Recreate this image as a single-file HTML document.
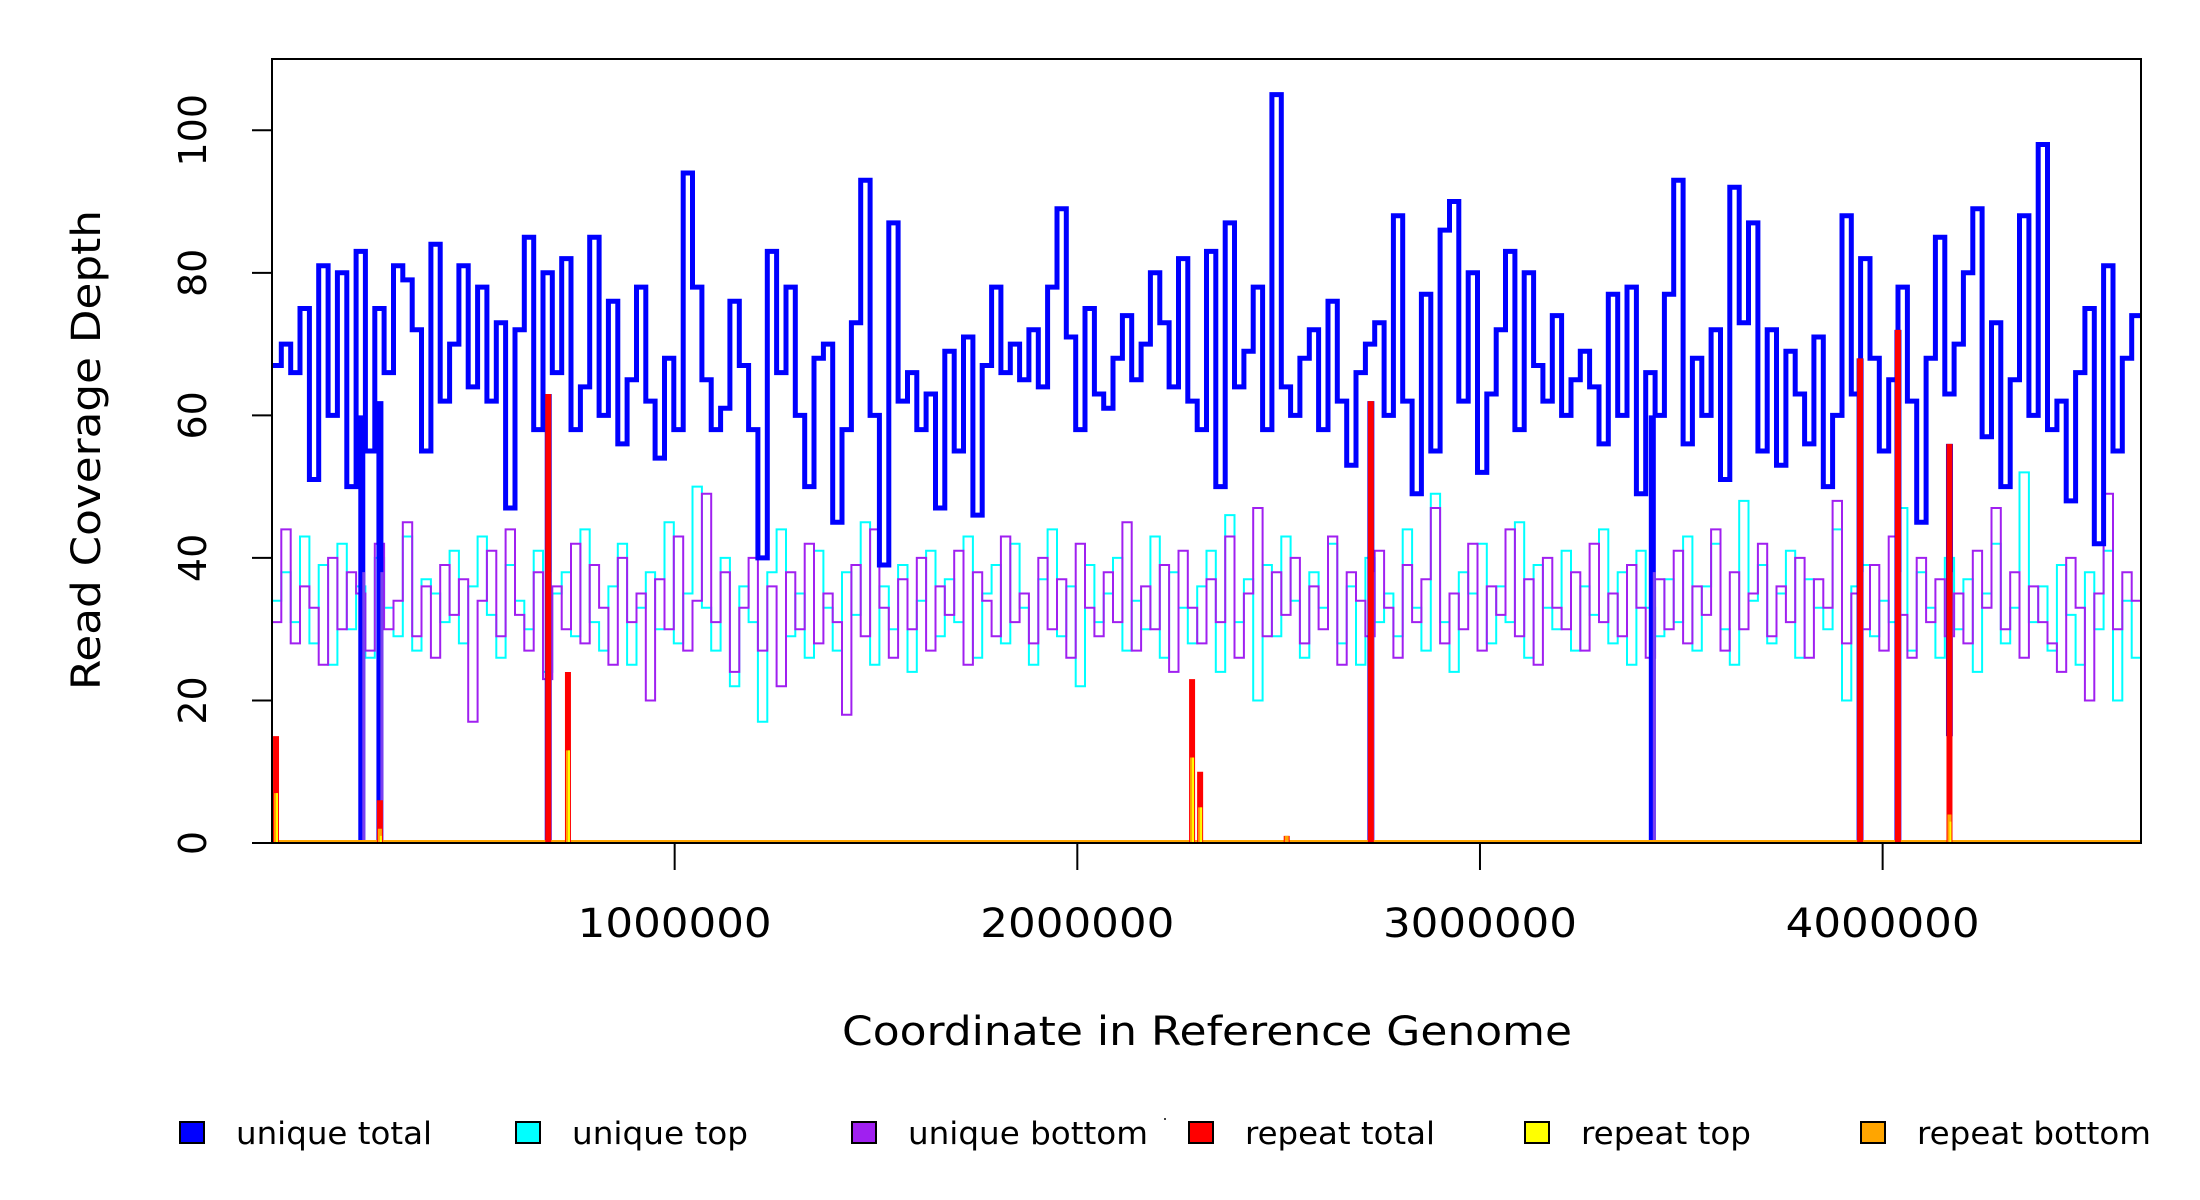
<!DOCTYPE html>
<html><head><meta charset="utf-8"><style>
html,body{margin:0;padding:0;background:#fff;}
svg{display:block;font-family:"DejaVu Sans","Liberation Sans",sans-serif;}
</style></head><body>
<svg id="chart" width="2200" height="1200" viewBox="0 0 2200 1200" xmlns="http://www.w3.org/2000/svg">
<rect x="0" y="0" width="2200" height="1200" fill="#fff"/>
<g id="marks"></g>
<rect x="272" y="59" width="1869" height="784" fill="none" stroke="#000" stroke-width="2"/>
<g id="axes"></g>
<text x="100" y="450" transform="rotate(-90 100 450)" text-anchor="middle" font-size="40" textLength="480" lengthAdjust="spacingAndGlyphs">Read Coverage Depth</text>
<text x="1207" y="1045" text-anchor="middle" font-size="40" textLength="730" lengthAdjust="spacingAndGlyphs">Coordinate in Reference Genome</text>
<g id="legend"></g>
<rect x="1164" y="1118" width="2" height="2" fill="#444"/>
</svg>
<script>
const genomeLength = 4641652;
const yMax = 110;
const uniqueTotal = [67,70,66,75,51,81,60,80,50,83,55,75,66,81,79,72,55,84,62,70,81,64,78,62,73,47,72,85,58,80,66,82,58,64,85,60,76,56,65,78,62,54,68,58,94,78,65,58,61,76,67,58,40,83,66,78,60,50,68,70,45,58,73,93,60,39,87,62,66,58,63,47,69,55,71,46,67,78,66,70,65,72,64,78,89,71,58,75,63,61,68,74,65,70,80,73,64,82,62,58,83,50,87,64,69,78,58,105,64,60,68,72,58,76,62,53,66,70,73,60,88,62,49,77,55,86,90,62,80,52,63,72,83,58,80,67,62,74,60,65,69,64,56,77,60,78,49,66,60,77,93,56,68,60,72,51,92,73,87,55,72,53,69,63,56,71,50,60,88,63,82,68,55,65,78,62,45,68,85,63,70,80,89,57,73,50,65,88,60,98,58,62,48,66,75,42,81,55,68,74];
const uniqueTop = [34,38,31,43,28,39,25,42,30,36,26,40,33,29,43,27,37,35,31,41,28,36,43,32,26,39,34,30,41,24,35,38,29,44,31,27,36,42,25,33,38,30,45,28,35,50,33,27,40,22,36,31,17,38,44,29,35,26,41,33,27,38,32,45,25,36,30,39,24,34,41,29,37,31,43,26,35,39,28,42,33,25,37,44,29,36,22,39,31,35,40,27,34,30,43,26,38,33,28,36,41,24,46,31,37,20,39,29,43,34,26,38,33,42,28,36,25,40,31,35,29,44,33,27,49,31,24,38,35,42,28,36,31,45,26,39,33,30,41,27,36,32,44,28,38,25,41,33,29,37,31,43,27,36,42,30,25,48,34,39,28,35,41,26,37,33,30,44,20,36,39,29,34,31,47,27,38,33,26,40,30,37,24,35,42,28,33,52,31,36,27,39,32,25,38,30,41,20,34,26];
const uniqueBottom = [31,44,28,36,33,25,40,30,38,35,27,42,30,34,45,29,36,26,39,32,37,17,34,41,29,44,32,27,38,23,36,30,42,28,39,33,25,40,31,35,20,37,30,43,27,34,49,31,38,24,33,40,27,36,22,38,30,42,28,35,31,18,39,29,44,33,26,37,30,40,27,36,32,41,25,38,34,29,43,31,35,28,40,30,37,26,42,33,29,38,31,45,27,36,30,39,24,41,33,28,37,31,43,26,35,47,29,38,32,40,28,36,30,43,25,38,34,29,41,33,26,39,31,37,47,28,35,30,42,27,36,32,44,29,37,25,40,33,30,38,27,42,31,35,29,39,33,26,37,30,41,28,36,32,44,27,38,30,35,42,29,36,31,40,26,37,33,48,28,35,30,39,27,43,32,26,40,31,37,29,35,28,41,33,47,30,38,26,36,31,28,24,40,33,20,35,49,30,38,34];
const dropoutPos = [223000,268000,686000,2729000,3428000,3944000,4038000,4166000];
const dropoutMin = [0,0,0,0,0,0,0,15];
const dropoutTop = [60,62,63,62,60,68,72,56];
const repeatPos = [10000,268000,686000,735000,2285000,2305000,2520000,2729000,3944000,4038000,4166000];
const repeatTotal = [15,6,63,24,23,10,1,62,68,72,56];
const repeatTop = [7,1,0,13,12,5,0,0,0,0,3];
const repeatBottom = [7,2,0,13,12,5,1,0,0,0,4];
const xTicks = [1000000,2000000,3000000,4000000];
const xTickLabels = ["1000000","2000000","3000000","4000000"];
const yTicks = [0,20,40,60,80,100];
const yTickLabels = ["0","20","40","60","80","100"];
const legendLabels = ["unique total","unique top","unique bottom","repeat total","repeat top","repeat bottom"];
const legendColors = ["#0000ff","#00ffff","#a020f0","#ff0000","#ffff00","#ffa500"];

const NS = "http://www.w3.org/2000/svg";
const X0 = 272, X1 = 2141, Y0 = 843, Y1 = 59;
function xs(v){ return X0 + v / genomeLength * (X1 - X0); }
function ys(v){ return Y0 - v / yMax * (Y0 - Y1); }
const marks = document.getElementById('marks');
const axes = document.getElementById('axes');
const legend = document.getElementById('legend');

function stepPath(arr){
  const w = genomeLength / arr.length;
  let d = "";
  arr.forEach((v, i) => {
    const xa = xs(i * w), xb = xs((i + 1) * w), y = ys(v);
    d += (i === 0 ? "M" : "L") + xa.toFixed(1) + "," + y.toFixed(1) + "L" + xb.toFixed(1) + "," + y.toFixed(1);
  });
  return d;
}
function addStep(arr, color, width, name){
  const p = document.createElementNS(NS, 'path');
  p.setAttribute('d', stepPath(arr));
  p.setAttribute('fill', 'none');
  p.setAttribute('stroke', color);
  p.setAttribute('stroke-width', width);
  
  
  marks.appendChild(p);
}
function vline(x, ya, yb, color, width, name){
  const l = document.createElementNS(NS, 'line');
  l.setAttribute('x1', x); l.setAttribute('x2', x);
  l.setAttribute('y1', ya); l.setAttribute('y2', yb);
  l.setAttribute('stroke', color); l.setAttribute('stroke-width', width);
  
  
  marks.appendChild(l);
}

addStep(uniqueTop, '#00ffff', 2, 'unique-top-line');
addStep(uniqueBottom, '#a020f0', 2, 'unique-bottom-line');
addStep(uniqueTotal, '#0000ff', 5, 'unique-total-line');

dropoutPos.forEach((p, i) => {
  vline(xs(p), ys(dropoutTop[i]), ys(dropoutMin[i]), '#0000ff', 7, 'coverage-dropout');
  vline(xs(p) + 2, ys(38), ys(dropoutMin[i]), '#7a40f0', 3, 'coverage-dropout-bottom');
});

const base = document.createElementNS(NS, 'line');
base.setAttribute('x1', X0); base.setAttribute('x2', X1);
base.setAttribute('y1', ys(0) - 1); base.setAttribute('y2', ys(0) - 1);
base.setAttribute('stroke', '#ffa500'); base.setAttribute('stroke-width', 4);


marks.appendChild(base);

repeatPos.forEach((p, i) => {
  vline(xs(p), ys(0), ys(repeatTotal[i]), '#ff0000', 6, 'repeat-total-spike');
  if (repeatBottom[i] > 0) vline(xs(p), ys(0), ys(repeatBottom[i]), '#ffa500', 4, 'repeat-bottom-spike');
  if (repeatTop[i] > 0) vline(xs(p) + 1, ys(0), ys(repeatTop[i]), '#ffff00', 2, 'repeat-top-spike');
});

yTicks.forEach((t, i) => {
  const y = ys(t);
  const l = document.createElementNS(NS, 'line');
  l.setAttribute('x1', 252); l.setAttribute('x2', X0);
  l.setAttribute('y1', y); l.setAttribute('y2', y);
  l.setAttribute('stroke', '#000'); l.setAttribute('stroke-width', 2);
  
  
  axes.appendChild(l);
  const tx = document.createElementNS(NS, 'text');
  tx.setAttribute('x', 206); tx.setAttribute('y', y);
  tx.setAttribute('transform', 'rotate(-90 206 ' + y + ')');
  tx.setAttribute('text-anchor', 'middle');
  tx.setAttribute('font-size', '38');
  tx.textContent = yTickLabels[i];
  
  
  axes.appendChild(tx);
});
xTicks.forEach((t, i) => {
  const x = xs(t);
  const l = document.createElementNS(NS, 'line');
  l.setAttribute('x1', x); l.setAttribute('x2', x);
  l.setAttribute('y1', Y0); l.setAttribute('y2', 870);
  l.setAttribute('stroke', '#000'); l.setAttribute('stroke-width', 2);
  
  
  axes.appendChild(l);
  const tx = document.createElementNS(NS, 'text');
  tx.setAttribute('x', x); tx.setAttribute('y', 937);
  tx.setAttribute('text-anchor', 'middle');
  tx.setAttribute('font-size', '40');
  tx.setAttribute('textLength', '194');
  tx.setAttribute('lengthAdjust', 'spacingAndGlyphs');
  tx.textContent = xTickLabels[i];
  
  
  axes.appendChild(tx);
});

const legendX = [180, 516, 852, 1189, 1525, 1861];
const legendTextLen = [196, 176, 240, 190, 170, 234];
legendLabels.forEach((lab, i) => {
  const g = document.createElementNS(NS, 'g');
  
  
  const r = document.createElementNS(NS, 'rect');
  r.setAttribute('x', legendX[i]); r.setAttribute('y', 1122);
  r.setAttribute('width', 24); r.setAttribute('height', 21);
  r.setAttribute('fill', legendColors[i]); r.setAttribute('stroke', '#000'); r.setAttribute('stroke-width', 2);
  
  
  g.appendChild(r);
  const t = document.createElementNS(NS, 'text');
  t.setAttribute('x', legendX[i] + 56); t.setAttribute('y', 1144);
  t.setAttribute('font-size', '31');
  t.setAttribute('textLength', legendTextLen[i]);
  t.setAttribute('lengthAdjust', 'spacingAndGlyphs');
  t.textContent = lab;
  
  
  g.appendChild(t);
  legend.appendChild(g);
});
</script>
</body></html>
